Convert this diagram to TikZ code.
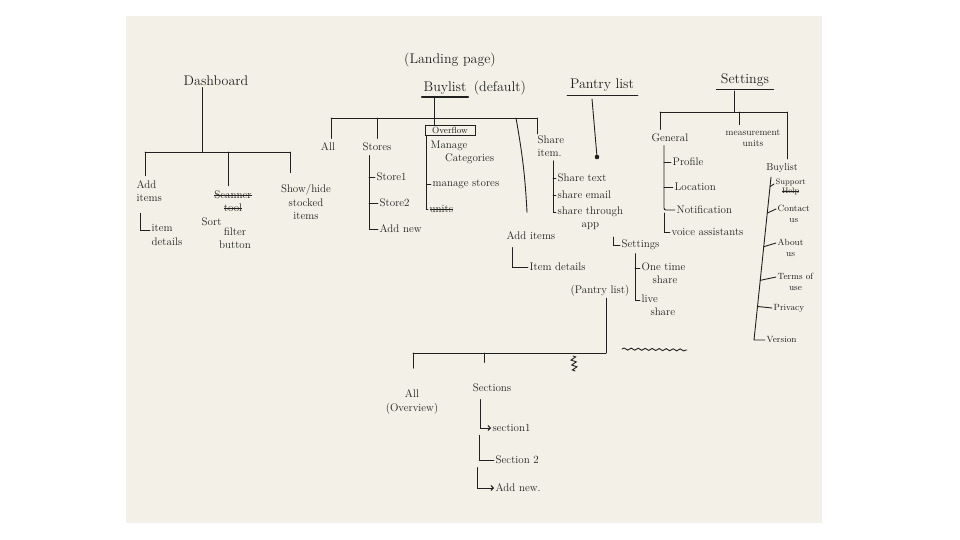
\documentclass[tikz,border=0pt]{standalone}
\usepackage{tikz}
\usetikzlibrary{arrows.meta, positioning, calc, decorations.pathmorphing}
\definecolor{paper}{RGB}{243,241,231}
\definecolor{ink}{RGB}{32,32,32}
\newcommand\struck[1]{\setbox0\hbox{#1}\rlap{\rule[0.55ex]{\wd0}{0.7pt}}\box0}

\begin{document}
\begin{tikzpicture}[
  x=1pt, y=-1pt,
  wire/.style={draw=ink, line width=0.9pt, line cap=round},
  drop/.style={wire, shorten >=3pt},
  head/.style={font=\fontsize{14}{16}\selectfont, text=ink, inner sep=1.5pt},
  item/.style={font=\fontsize{11}{13.5}\selectfont, text=ink, inner sep=1.5pt, anchor=west, align=left},
  mid/.style={item, anchor=center, align=center},
  tiny/.style={item, font=\fontsize{9}{10.5}\selectfont},
]
\useasboundingbox (0,0) rectangle (960,540);
\fill[white] (0,0) rectangle (960,540);
\fill[paper] (126,16) rectangle (822,523);

% dashboard
\node[head] (dash) at (216,81) {Dashboard};
\coordinate (dashJ) at (202,152);
\coordinate (dashL) at (145,152);
\coordinate (dashM) at (228,152);
\coordinate (dashR) at (290,152);
\draw[wire] (dash.south -| dashJ) -- (dashJ);
\draw[wire] (dashL) -- (dashR);
\node[item] (additems) at (135,191) {Add\\items};
\node[item] (itemdet) at (150,235) {item\\details};
\node[mid] (scan) at (233,201) {\struck{Scanner}\\\struck{tool}};
\node[item] (sort) at (200,222) {Sort};
\node[mid] (filter) at (235,238) {filter\\button};
\node[mid] (showhide) at (306,202) {Show/hide\\stocked\\items};
\draw[drop] (dashL) -- (dashL |- additems.north);
\draw[drop] (dashM) -- (dashM |- scan.north);
\draw[drop, shorten >=10pt] (dashR) -- (dashR |- showhide.north);
\draw[wire] ([xshift=5pt,yshift=-10pt]additems.south west) |- ([yshift=-8pt]itemdet.north west);

% buylist
\node[head] (landing) at (450,60) {(Landing page)};
\node[head] (buylist) at (445,88) {Buylist};
\node[head, right=4pt of buylist] (default) {(default)};
\draw[wire, line width=1.8pt] ([yshift=-1pt]buylist.south west) -- ([yshift=-1pt]buylist.south east);
\coordinate (buyJ) at (434,118);
\coordinate (buyL) at (331,118);
\coordinate (buyS) at (377,118);
\coordinate (buyA) at (516,118);
\coordinate (buyR) at (537,118);
\draw[wire] ([yshift=-2pt]buylist.south -| buyJ) -- (buyJ);
\draw[wire] (buyL) -- (buyR);
\node[mid] (all) at (328,147) {All};
\node[mid] (stores) at (377,147) {Stores};
\node[item, draw=ink, line width=0.9pt, font=\fontsize{9}{10}\selectfont, inner sep=0.5pt, minimum width=50pt, minimum height=10pt, anchor=center, align=center] (overflow) at (450,130) {Overflow};
\node[item, anchor=north west] (shareitem) at (536,134) {Share\\item.};
\draw[drop] (buyL) -- (buyL |- all.north);
\draw[drop] (buyS) -- (buyS |- stores.north);
\draw[wire] (buyJ) -- (buyJ |- overflow.north);
\draw[wire] (buyR) -- (buyR |- shareitem.north);
% stores
\node[item] (store1) at (375,177) {Store1};
\node[item] (store2) at (378,203) {Store2};
\node[item] (addnew) at (378,229) {Add new};
\coordinate (storesV) at ([xshift=-8pt,yshift=-3pt]stores.south);
\draw[wire] (storesV) |- (addnew.west);
\draw[wire] (storesV |- store1.west) -- (store1.west);
\draw[wire] (storesV |- store2.west) -- (store2.west);
% overflow
\node[item, anchor=north west] (managecat) at (429,139) {Manage\\\hspace{1.3em}Categories};
\node[item] (managestores) at (431,184) {manage stores};
\node[item] (units) at (428,209) {\struck{units}};
\coordinate (ovV) at ([xshift=2pt]overflow.south west);
\draw[wire] (ovV) |- (units.west);
\draw[wire] (ovV |- managestores.west) -- (managestores.west);
% share item
\node[item] (sharetext) at (556,178) {Share text};
\node[item] (shareemail) at (556,195) {share email};
\node[item, anchor=north west, align=center] (sharethrough) at (556,205) {share through\\app};
\coordinate (shV) at ([xshift=17pt,yshift=-2pt]shareitem.south west);
\draw[wire] (shV) |- ([yshift=-7pt]sharethrough.north west);
\draw[wire] (shV |- sharetext.west) -- (sharetext.west);
\draw[wire] (shV |- shareemail.west) -- (shareemail.west);
% add items
\node[item] (additems2) at (505,236) {Add items};
\node[item] (itemdet2) at (528,267) {Item details};
\node[mid] (pantrynote) at (600,291) {(Pantry list)};
\draw[wire] (buyA) to[out=-80, in=93] ([xshift=22pt,yshift=18pt]additems2.north west);
\draw[wire] ([xshift=7pt,yshift=-6pt]additems2.south west) |- (itemdet2.west);

% pantry list
\node[head] (pantry) at (602,85) {Pantry list};
\coordinate (pantryDot) at (597,157);
\draw[wire] ([xshift=-35pt,yshift=-2pt]pantry.south) -- ([xshift=36pt,yshift=-2pt]pantry.south);
\draw[wire] ([xshift=-10pt,yshift=-6pt]pantry.south) -- (pantryDot);
\fill[ink] (pantryDot) circle (2.3pt);
\node[item] (sharesettings) at (620,245) {Settings};
\draw[wire] ([xshift=-7pt,yshift=8pt]sharesettings.west) |- (sharesettings.west);
\node[item, anchor=north west, align=left] (onetime) at (640,261) {One time\\\hspace{1em}share};
\node[item, anchor=north west, align=left] (live) at (640,293) {live\\\hspace{0.8em}share};
\coordinate (ssV) at ([xshift=15pt,yshift=-2pt]sharesettings.south west);
\draw[wire] (ssV) |- ([yshift=-7pt]live.north west);
\draw[wire] (ssV |- onetime.north west) ++(0,7) -- ([yshift=-7pt]onetime.north west);

% pantry list sections
\coordinate (pantJ) at (606,353);
\coordinate (pantL) at (413,353);
\coordinate (pantS) at (484,353);
\coordinate (pantQ) at (573,356);
\coordinate (pantQe) at (575,371);
\coordinate (waveA) at (622,349);
\coordinate (waveB) at (687,350);
\draw[wire] (pantrynote.south -| pantJ) -- (pantJ);
\draw[wire] (pantL) -- (pantJ);
\draw[wire, decorate, decoration={snake, amplitude=1pt, segment length=7pt}] (waveA) -- (waveB);
\draw[wire, decorate, decoration={zigzag, amplitude=2.5pt, segment length=5pt}] (pantQ) -- (pantQe);
\node[mid] (allov) at (412,402) {All\\(Overview)};
\node[mid] (sections) at (492,388) {Sections};
\draw[drop, shorten >=20pt] (pantL) -- (pantL |- allov.north);
\draw[drop, shorten >=20pt] (pantS) -- (pantS |- sections.north);
\node[item] (section1) at (491,428) {section1};
\node[item] (section2) at (494,460) {Section 2};
\node[item] (addnew2) at (494,488) {Add new.};
\draw[wire, -{Straight Barb[length=2.5pt]}] ([xshift=-12pt,yshift=-6pt]sections.south) |- (section1.west);
\draw[wire] ([xshift=-12pt,yshift=-2pt]section1.south west) |- (section2.west);
\draw[wire, -{Straight Barb[length=2.5pt]}] ([xshift=-17pt,yshift=-2pt]section2.south west) |- (addnew2.west);

% settings
\node[head] (settings) at (745,80) {Settings};
\draw[wire] ([xshift=-3pt,yshift=-1pt]settings.south west) -- ([xshift=3pt,yshift=-1pt]settings.south east);
\coordinate (setJ) at (734,112);
\coordinate (setL) at (660,112);
\coordinate (setM) at (739,112);
\coordinate (setR) at (787,112);
\draw[wire] ([yshift=-3pt]settings.south -| setJ) -- (setJ);
\draw[wire] (setL) -- (setR);
\node[mid] (general) at (670,138) {General};
\node[mid, font=\fontsize{9.5}{11.5}\selectfont] (measure) at (753,138) {measurement\\units};
\node[mid, font=\fontsize{10}{12}\selectfont] (buylist2) at (782,168) {Buylist};
\draw[drop] (setL) -- (setL |- general.north);
\draw[drop] (setM) -- (setM |- measure.north);
\draw[drop] (setR) -- (setR |- buylist2.north);
% general
\node[item] (profile) at (671,162) {Profile};
\node[item] (location) at (673,187) {Location};
\node[item] (notification) at (675,210) {Notification};
\node[item] (voice) at (670,232) {voice assistants};
\coordinate (genV) at ([xshift=-6pt,yshift=-2pt]general.south);
\coordinate (genN) at (genV |- notification.west);
\draw[wire, rounded corners=2pt] (genV) |- (notification.west);
\draw[wire] (genV |- profile.west) -- (profile.west);
\draw[wire] (genV |- location.west) -- (location.west);
\draw[wire] ([yshift=-3pt]genN) |- (voice.west);
% about buylist
\node[tiny, align=center, font=\fontsize{8}{8.5}\selectfont] (support) at (774,187) {Support\\\struck{Help}};
\node[tiny, align=center] (contact) at (776,214) {Contact\\us};
\node[tiny, align=center] (about) at (776,248) {About\\us};
\node[tiny, align=center] (terms) at (776,282) {Terms of\\use};
\node[tiny] (privacy) at (772,308) {Privacy};
\node[tiny] (version) at (765,340) {Version};
\coordinate (blTop) at ([xshift=-11pt,yshift=-3pt]buylist2.south);
\coordinate (blBot) at ([xshift=-11pt]version.west);
\draw[wire] (blTop) -- (blBot) -- (version.west);
\draw[wire] ($(blTop)!(support.west)!(blBot)$) -- ([yshift=3pt]support.west);
\draw[wire] ($(blTop)!(contact.west)!(blBot)$) -- ([yshift=5pt]contact.west);
\draw[wire] ($(blTop)!(about.west)!(blBot)$) -- ([yshift=5pt]about.west);
\draw[wire] ($(blTop)!(terms.west)!(blBot)$) -- ([yshift=5pt]terms.west);
\draw[wire] ($(blTop)!(privacy.west)!(blBot)$) -- (privacy.west);
\end{tikzpicture}
\end{document}
